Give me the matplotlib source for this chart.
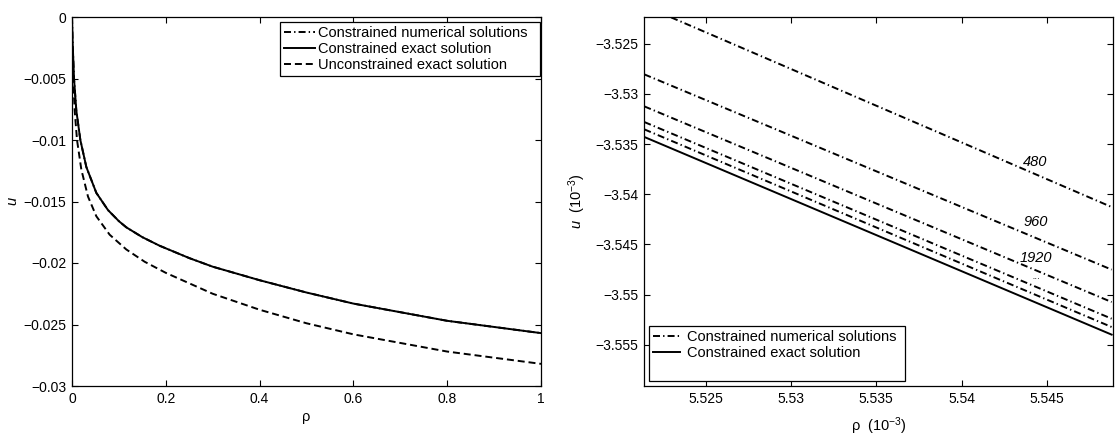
import numpy as np
import matplotlib
matplotlib.use('Agg')
import matplotlib.pyplot as plt
from matplotlib.lines import Line2D

plt.rcParams['font.family'] = ['Liberation Sans', 'DejaVu Sans']
plt.rcParams['font.size'] = 10.5
plt.rcParams['mathtext.fontset'] = 'custom'
plt.rcParams['mathtext.rm'] = 'Liberation Sans'
plt.rcParams['mathtext.it'] = 'Liberation Sans:italic'
plt.rcParams['axes.unicode_minus'] = True

# LEFT PANEL: FULL RANGE
rho_exact = [0, 0.0015, 0.0043, 0.0092, 0.0178, 0.0306, 0.0519, 0.0768, 0.1, 0.1158,
             0.15, 0.187, 0.25, 0.3, 0.4, 0.5, 0.6, 0.7, 0.8, 0.9, 1.0]
u_exact = [0, -0.0022, -0.0050, -0.0076, -0.0100, -0.0122, -0.0143, -0.0157, -0.0166, -0.0171,
           -0.0179, -0.0186, -0.0196, -0.0203, -0.0214, -0.0224, -0.0233, -0.0240, -0.0247, -0.0252, -0.0257]
rho_unc = [0.001, 0.002, 0.0057, 0.0107, 0.0199, 0.0341, 0.0519, 0.0803, 0.1158, 0.155,
           0.2, 0.3, 0.4, 0.5, 0.6, 0.7, 0.8, 0.9, 1.0]
u_unc = [-0.0030, -0.0045, -0.0076, -0.0100, -0.0124, -0.0146, -0.0162, -0.0177, -0.0189, -0.0199,
         -0.0208, -0.0225, -0.0238, -0.0249, -0.0258, -0.0265, -0.0272, -0.0277, -0.0282]
# numerical solutions coincide with the exact one at this scale
u_num_left = u_exact

# RIGHT PANEL: ZOOM (units of 1e-3)
rho_zoom = [5.5214, 5.5488]
u_num_zoom = {
    '480':  [-3.52123, -3.54128],
    '960':  [-3.52806, -3.54752],
    '1920': [-3.53125, -3.55075],
    '3840': [-3.53281, -3.55241],
    '7680': [-3.53354, -3.55324],
}
u_exact_zoom = [-3.53430, -3.55400]
res_labels = ['480', '960', '1920']
res_label_x = [5.54434, 5.54434, 5.54434]
res_label_y = [-3.53679, -3.54278, -3.54633]

xt_left = [0, 0.2, 0.4, 0.6, 0.8, 1]
xt_left_lab = ['0', '0.2', '0.4', '0.6', '0.8', '1']
yt_left = [0, -0.005, -0.01, -0.015, -0.02, -0.025, -0.03]
yt_left_lab = ['0', '\u22120.005', '\u22120.01', '\u22120.015', '\u22120.02', '\u22120.025', '\u22120.03']
xt_right = [5.525, 5.53, 5.535, 5.54, 5.545]
xt_right_lab = ['5.525', '5.53', '5.535', '5.54', '5.545']
yt_right = [-3.525, -3.53, -3.535, -3.54, -3.545, -3.55, -3.555]
yt_right_lab = ['\u22123.525', '\u22123.53', '\u22123.535', '\u22123.54', '\u22123.545', '\u22123.55', '\u22123.555']

LW = 1.4
DASHDOT = (0, (3.6, 1.6, 0.7, 1.6))
DASHED = (0, (3.6, 2.0))

fig = plt.figure(figsize=(11.15, 4.37), dpi=100)
ax1 = fig.add_axes([72/1115, 1-386/437, 469/1115, 369/437])
ax2 = fig.add_axes([644/1115, 1-386/437, 469/1115, 369/437])

def style(ax):
    ax.tick_params(direction='in', length=4, width=0.8, top=True, right=True, pad=4, labelsize=10)
    for s in ax.spines.values():
        s.set_linewidth(0.9)

# left
ax1.plot(rho_exact, u_num_left, color='k', lw=LW, ls=DASHDOT, label='Constrained numerical solutions  ')
ax1.plot(rho_exact, u_exact, color='k', lw=LW, ls='-', label='Constrained exact solution')
ax1.plot(rho_unc, u_unc, color='k', lw=LW, ls=DASHED, label='Unconstrained exact solution')
ax1.set_xlim(0, 1)
ax1.set_ylim(-0.03, 0)
ax1.set_xticks(xt_left)
ax1.set_xticklabels(xt_left_lab)
ax1.set_yticks(yt_left)
ax1.set_yticklabels(yt_left_lab)
style(ax1)
ax1.set_xlabel('\u03c1')
ax1.set_ylabel('$u$')
ax1.xaxis.set_label_coords(0.5, -0.065)
ax1.yaxis.set_label_coords(-0.11, 0.5)
leg1 = ax1.legend(loc='upper right', bbox_to_anchor=(540/1115, 1-22/437), bbox_transform=fig.transFigure,
                  borderaxespad=0, fancybox=False, framealpha=1, edgecolor='k',
                  handlelength=2.1, handletextpad=0.2, labelspacing=0.12, borderpad=0.3)
leg1.get_frame().set_linewidth(0.9)

# right
for key in u_num_zoom:
    ax2.plot(rho_zoom, u_num_zoom[key], color='k', lw=LW, ls=DASHDOT)
ax2.plot(rho_zoom, u_exact_zoom, color='k', lw=LW, ls='-')
for lab, lx, ly in zip(res_labels, res_label_x, res_label_y):
    ax2.text(lx, ly, lab, style='italic', ha='center', va='center', fontsize=10.5)
ax2.text(5.5444, -3.54818, '...', style='italic', ha='center', va='center', fontsize=7)
ax2.set_xlim(5.52138, 5.54888)
ax2.set_ylim(-3.55912, -3.52234)
ax2.set_xticks(xt_right)
ax2.set_xticklabels(xt_right_lab)
ax2.set_yticks(yt_right)
ax2.set_yticklabels(yt_right_lab)
style(ax2)
ax2.set_xlabel('\u03c1  (10$^{-3}$)')
ax2.set_ylabel('$u$  (10$^{-3}$)')
ax2.xaxis.set_label_coords(0.5, -0.08)
ax2.yaxis.set_label_coords(-0.12, 0.5)
handles = [Line2D([], [], color='k', lw=LW, ls=DASHDOT),
           Line2D([], [], color='k', lw=LW, ls='-'),
           Line2D([], [], color='none', lw=0)]
labels = ['Constrained numerical solutions ', 'Constrained exact solution', ' ']
leg2 = ax2.legend(handles, labels, loc='lower left', bbox_to_anchor=(649/1115, 1-381/437),
                  bbox_transform=fig.transFigure, borderaxespad=0, fancybox=False, framealpha=1,
                  edgecolor='k', handlelength=1.8, handletextpad=0.5, labelspacing=0.15, borderpad=0.3)
leg2.get_frame().set_linewidth(0.9)

fig.savefig('out.png', dpi=100)
